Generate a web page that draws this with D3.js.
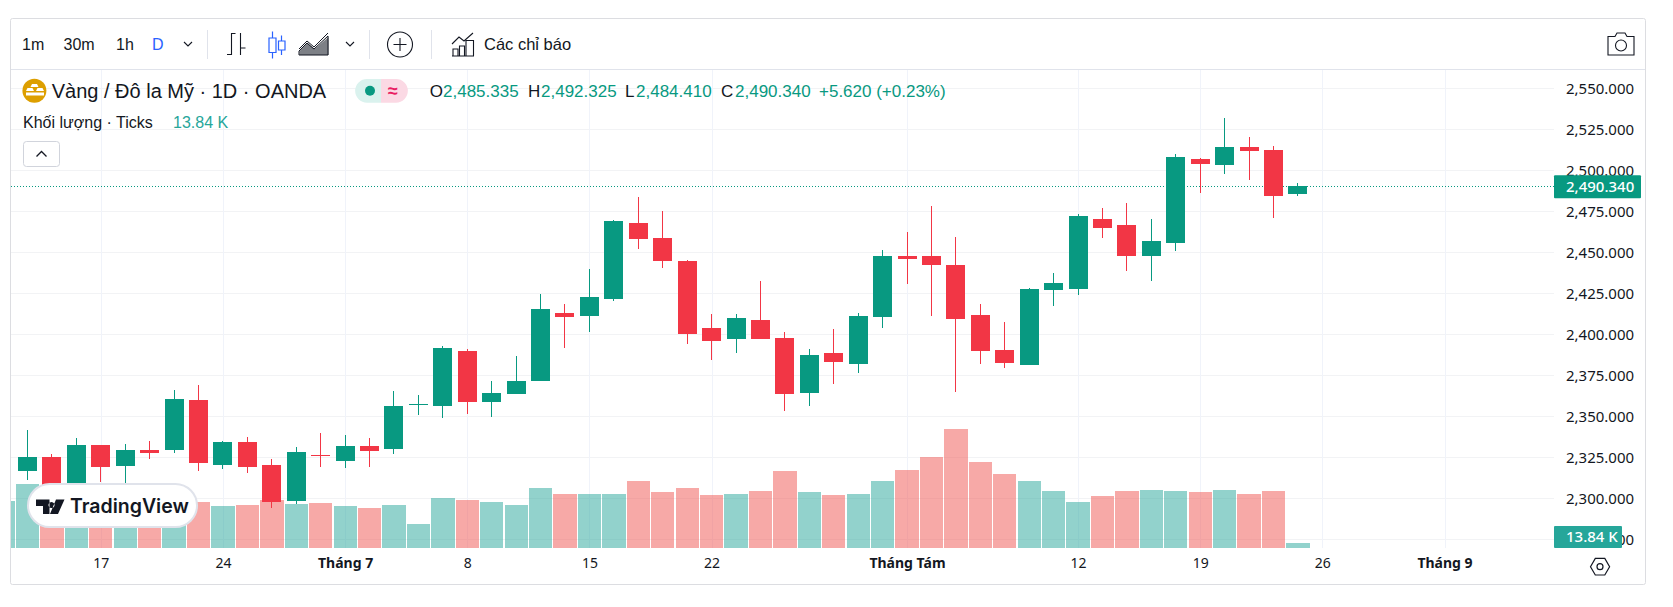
<!DOCTYPE html>
<html><head><meta charset="utf-8">
<script src="https://cdn.jsdelivr.net/npm/d3@7"></script>
<style>
html,body{margin:0;padding:0;background:#fff;overflow:hidden}
svg{display:block}
.ui{font-family:"Liberation Sans",Arial,sans-serif}
.ax{font-family:"Noto Sans",sans-serif}
</style></head><body><svg id="c" width="1673" height="607"></svg>
<script>
// ---------- data ----------
const dates=["06-11","06-12","06-13","06-14","06-17","06-18","06-19","06-20","06-21","06-24","06-25","06-26","06-27","06-28",
"07-01","07-02","07-03","07-04","07-05","07-08","07-09","07-10","07-11","07-12","07-15","07-16","07-17","07-18","07-19",
"07-22","07-23","07-24","07-25","07-26","07-29","07-30","07-31","08-01","08-02","08-05","08-06","08-07","08-08","08-09",
"08-12","08-13","08-14","08-15","08-16","08-19","08-20","08-21","08-22","08-23","08-26","08-27","08-28","08-29","08-30","09-02"];
// candles start at dates[1]; dates[0] only shows its volume bar, clipped by the pane edge
const opens=[2316.7,2325.2,2304,2332.5,2319.6,2329.4,2329.4,2360,2320.3,2334.3,2320.3,2298.3,2326.5,2322.8,2331.9,2330,2356.9,2356.3,2389.8,2358.7,2363.6,2371.5,
2413,2411.2,2421.5,2467.9,2458.7,2444.7,2403.8,2397.1,2408.7,2397.7,2364.2,2388.6,2381.9,2410.6,2447.8,2447.8,2442.3,2411.8,2390.4,2381.3,2427,2427.6,2470.3,2466.7,2447.8,2455.7,2506.9,2503.3,2514.2,2512.4,2485.335];
const highs=[2341.7,2327,2336.8,2332.5,2333,2335,2366,2369,2335,2337.4,2324,2331.3,2339.8,2338.6,2336.8,2365.5,2363,2393,2391,2371.5,2386.8,2424.6,
2418.5,2439.8,2469.7,2483.7,2475.2,2445.3,2412.4,2412.4,2432.5,2401.4,2391,2403.2,2413,2451.4,2462.4,2478.3,2459.3,2418.5,2407.5,2428.2,2437.4,2473.4,2477,2480,2470.3,2510,2507.5,2531.9,2520.3,2514.8,2492.325];
const lows=[2311.2,2301,2302,2310,2309.6,2323.9,2327.6,2316.7,2317.9,2315.5,2294,2296.5,2319,2318.5,2319,2327,2350.8,2349,2351.4,2349.6,2363.6,2371.5,
2391.6,2401.4,2420.3,2452,2440.4,2394,2384.3,2388.6,2397.1,2353.2,2356.3,2369.7,2376.4,2403.8,2430.7,2411.2,2364.8,2381.9,2379.3,2381.3,2417.3,2424,2458.7,2438.6,2432.5,2450.8,2486.2,2497.8,2494.1,2470.9,2484.41];
const closes=[2325.2,2304,2332.5,2319,2329.4,2327.6,2360.6,2321.5,2334.3,2319,2297.7,2328.2,2326.1,2331.9,2328.9,2356.3,2357.5,2391.7,2358.7,2364.2,2371.5,2415.4,
2410.6,2422.8,2469.1,2458.1,2444.7,2400.2,2395.9,2409.9,2397.1,2363.6,2387.4,2383.1,2411.2,2447.8,2445.9,2442.3,2409.3,2389.8,2382.5,2427.6,2431.3,2472.2,2464.8,2447.8,2456.9,2508.1,2503.9,2514.2,2511.8,2484.4,2490.34];
// volumes (thousand ticks) start at dates[0]
const volumes=[130.1,177.2,114.4,123.6,123.6,105.2,109.8,119,127.3,116.3,119,132.9,121.8,124.6,116.3,110.7,119,66.4,138.4,132.9,127.3,119,166.1,
149.5,149.5,149.5,185.5,155,166.1,146.7,149.5,157.8,213.1,155,146.7,149.5,185.5,215.9,251.9,329.4,238,204.8,185.5,157.8,127.3,143.9,157.8,160.5,157.8,155,160.5,149.5,157.8,13.84];
const priceTicks=[2550,2525,2500,2475,2450,2425,2400,2375,2350,2325,2300,2275];
const timeTickDates=["06-17","06-24","07-01","07-08","07-15","07-22","08-01","08-12","08-19","08-26","09-02"];
const timeTickLabels=["17","24","Tháng 7","8","15","22","Tháng Tám","12","19","26","Tháng 9"];
const monthLabels=["Tháng 7","Tháng Tám","Tháng 9"];
const lastPrice=2490.34, lastVolume=13.84;
const intervals=["1m","30m","1h","D"];
const ohlcLetters=["O","H","L","C"];
const ohlcValues=["2,485.335","2,492.325","2,484.410","2,490.340"];

// ---------- layout ----------
const UP="#089981",DOWN="#f23645",VUP="#26a69a",VDOWN="#ef5350",INK="#131722",GRID="#f0f3fa";
const L=11,R=1554,T=70,B=548;
const svg=d3.select("#c");
const x=d3.scalePoint().domain(dates).range([3.07,1444.5]);
const y=d3.scaleLinear().domain([2550,2275]).range([88.3,539.3]);
const vPx=d3.scaleLinear().domain([0,lastVolume]).range([0,5]);
const vy=v=>B-vPx(v);

svg.append("defs").append("clipPath").attr("id","pane").append("rect").attr("x",L).attr("y",T).attr("width",R-L).attr("height",B-T);

// grid
const grid=svg.append("g").attr("shape-rendering","crispEdges");
grid.selectAll(".h").data(priceTicks).join("line").attr("x1",L).attr("x2",R).attr("y1",d=>y(d)).attr("y2",d=>y(d)).attr("stroke","#f2f3f5");
grid.selectAll(".v").data(timeTickDates).join("line").attr("x1",d=>Math.round(x(d))+.5).attr("x2",d=>Math.round(x(d))+.5).attr("y1",T).attr("y2",B).attr("stroke",GRID);

const pane=svg.append("g").attr("clip-path","url(#pane)").attr("shape-rendering","crispEdges");
// volume
const isUp=i=>i===0||closes[i-1]>=opens[i-1];
pane.append("g").selectAll("rect").data(volumes).join("rect")
 .attr("x",(d,i)=>Math.round(x(dates[i])-11.6)).attr("width",(d,i)=>Math.round(x(dates[i])+11.7)-Math.round(x(dates[i])-11.6))
 .attr("y",d=>Math.round(vy(d))).attr("height",d=>B-Math.round(vy(d)))
 .attr("fill",(d,i)=>isUp(i)?VUP:VDOWN).attr("fill-opacity",.5);
// last price line
pane.append("line").attr("x1",L).attr("x2",R).attr("y1",Math.round(y(lastPrice))+.5).attr("y2",Math.round(y(lastPrice))+.5)
 .attr("stroke",UP).attr("stroke-dasharray","1 2");
// candles
const cg=pane.append("g").selectAll("g").data(closes).join("g");
const cx=i=>x(dates[i+1]);
cg.append("rect").attr("x",(d,i)=>Math.round(cx(i)-.5)).attr("width",1)
 .attr("y",(d,i)=>y(highs[i])).attr("height",(d,i)=>y(lows[i])-y(highs[i]))
 .attr("fill",(d,i)=>d>=opens[i]?UP:DOWN);
cg.append("rect").attr("x",(d,i)=>Math.round(cx(i)-9.5)).attr("width",19)
 .attr("y",(d,i)=>y(Math.max(d,opens[i]))).attr("height",(d,i)=>Math.max(1,Math.abs(y(d)-y(opens[i]))))
 .attr("fill",(d,i)=>d>=opens[i]?UP:DOWN);

// price axis
const pa=svg.append("g").attr("class","ax").attr("transform","translate(1554,0)")
 .call(d3.axisRight(y).tickValues(priceTicks).tickFormat(d3.format(",.3f")).tickSize(0).tickPadding(12));
pa.select(".domain").remove();
pa.selectAll("text").attr("font-size",15).attr("font-family","Noto Sans").attr("fill",INK);

// time axis
const ta=svg.append("g").attr("class","ax").attr("transform","translate(0,"+B+")")
 .call(d3.axisBottom(x).tickValues(timeTickDates).tickFormat((d,i)=>timeTickLabels[i]).tickSize(0).tickPadding(10));
ta.select(".domain").remove();
ta.selectAll("text").attr("font-size",14).attr("font-family","Noto Sans").attr("fill",INK)
 .attr("font-weight",function(){return monthLabels.includes(this.textContent)?700:400});

// value tags
const tag=svg.append("g");
tag.append("rect").attr("x",1554).attr("width",87).attr("y",y(lastPrice)-11).attr("height",23).attr("rx",1).attr("fill",UP);
tag.append("text").attr("class","ax").attr("x",1566).attr("y",y(lastPrice)+5.5).attr("font-size",15).attr("font-weight",500).attr("fill","#fff").text(d3.format(",.3f")(lastPrice));
tag.append("rect").attr("x",1554).attr("width",68).attr("y",526).attr("height",22).attr("rx",1).attr("fill",VUP);
tag.append("text").attr("class","ax").attr("x",1566).attr("y",542).attr("font-size",15).attr("font-weight",500).attr("fill","#fff").text(lastVolume+" K");

// watermark
const wm=svg.append("g");
wm.append("rect").attr("x",28).attr("y",484).attr("width",169).attr("height",43).attr("rx",21.5).attr("fill","#fff").attr("stroke","#e0e3eb").attr("stroke-width",2);
wm.append("path").attr("fill",INK).attr("d","M36 499.5h13.5v14.5h-6.5v-8h-7zM51.5 502a3 3 0 1 0 .01 0zM56 499.5h8.5l-6.5 14.5h-8z");
wm.append("text").attr("x",70).attr("y",513).attr("font-family","Inter,sans-serif").attr("font-weight",600).attr("font-size",19.5).attr("fill",INK).text("TradingView");

// frame
svg.append("rect").attr("x",10.5).attr("y",18.5).attr("width",1635).attr("height",566).attr("rx",2).attr("fill","none").attr("stroke","#dcdde1");
svg.append("line").attr("x1",11).attr("x2",1645).attr("y1",69.5).attr("y2",69.5).attr("stroke","#e0e3eb");

// toolbar
const tb=svg.append("g").attr("class","ui");
const ivX=[22,63.5,116,152];
tb.selectAll(".iv").data(intervals).join("text").attr("x",(d,i)=>ivX[i]).attr("y",49.5).attr("font-size",16).attr("fill",d=>d==="D"?"#2962ff":INK).text(d=>d);
[188,350].forEach(c=>tb.append("path").attr("d",`M${c-4} 42l4 4l4 -4`).attr("fill","none").attr("stroke",INK).attr("stroke-width",1.1));
[207.5,369.5,431.5].forEach(c=>tb.append("line").attr("x1",c).attr("x2",c).attr("y1",30).attr("y2",59).attr("stroke","#e0e3eb"));
const ic=tb.append("g").attr("fill","none").attr("stroke",INK).attr("stroke-width",1.1);
ic.append("path").attr("d","M227 54.5h4.5M231.5 55V33.5h4M240.5 33v22M240.5 48h5");
const cb=tb.append("g").attr("fill","none").attr("stroke","#2962ff").attr("stroke-width",1.2);
cb.append("path").attr("d","M272.5 31.500v6.500M272.500 52.500v6M269 38h7v14.500h-7zM281.500 35.500v5.500M281.500 50v5M278.500 41h6.500v9h-6.500z");
ic.append("path").attr("d","M299 49l8-8 7 6 14-14M299 55v-4l8-8 7 6 14-13v19z").attr("stroke-width",1);
tb.append("path").attr("d","M299.500 55v-4l8-8 7 6 14-12v18z").attr("fill",INK).attr("opacity",.55);
ic.append("circle").attr("cx",400).attr("cy",44.5).attr("r",12.5);
ic.append("path").attr("d","M400 38v13M393.500 44.500h13");
ic.append("path").attr("d","M452 44l7-7 5 4 9-8M453 55.500v-6.500h5v6.500M459.500 55.500v-9.500h5v9.500M466 55.500v-15h7.500v15M452 56h22");
tb.append("text").attr("x",484).attr("y",49.500).attr("font-size",16.500).attr("fill",INK).text("Các chỉ báo");
ic.append("path").attr("d","M1608 36.500h7l2-3.500h8l2 3.500h7v18.500h-26z");
ic.append("ellipse").attr("cx",1621).attr("cy",45.500).attr("rx",5.500).attr("ry",5.500);

// legend
const lg=svg.append("g").attr("class","ui");
lg.append("circle").attr("cx",34.400).attr("cy",90.700).attr("r",12).attr("fill","#dd9f00");
lg.append("path").attr("d","M32 84h5l1.500 3h-8zM26 91l1.500-3h5l1.500 3zM36 91l1.500-3h5l1.500 3zM26 92.500h18v3h-18z").attr("fill","#fff");
lg.append("text").attr("x",51.700).attr("y",97.500).attr("font-size",20).attr("fill",INK).text("Vàng / Đô la Mỹ · 1D · OANDA");
lg.append("path").attr("d","M381 79h-14a11.800 11.800 0 0 0 0 23.700h14z").attr("fill","#daf2ee");
lg.append("path").attr("d","M381 79h15a11.800 11.800 0 0 1 0 23.700h-15z").attr("fill","#fbd9e4");
lg.append("circle").attr("cx",370).attr("cy",90.700).attr("r",5).attr("fill",UP);
lg.append("text").attr("x",393).attr("y",96.500).attr("text-anchor","middle").attr("font-size",18).attr("font-weight",700).attr("fill","#e91e63").text("≈");
const letX=[429.800,528,625,721],valX=[443,541,636,735];
lg.selectAll(".ol").data(ohlcLetters).join("text").attr("x",(d,i)=>letX[i]).attr("y",97).attr("font-size",17).attr("fill",INK).text(d=>d);
lg.selectAll(".ov").data(ohlcValues).join("text").attr("x",(d,i)=>valX[i]).attr("y",97).attr("font-size",17).attr("fill",UP).text(d=>d);
lg.append("text").attr("x",819).attr("y",97).attr("font-size",17).attr("fill",UP).text("+5.620 (+0.23%)");
lg.append("text").attr("x",23).attr("y",128).attr("font-size",16).attr("fill",INK).text("Khối lượng · Ticks");
lg.append("text").attr("x",173).attr("y",128).attr("font-size",16).attr("fill",VUP).text("13.84 K");
lg.append("rect").attr("x",23.500).attr("y",141.500).attr("width",36).attr("height",25).attr("rx",3).attr("fill","#fff").attr("stroke","#d1d4dc");
lg.append("path").attr("d","M36.500 156.500l5-5l5 5").attr("fill","none").attr("stroke",INK).attr("stroke-width",1.300);

// settings
svg.append("path").attr("d","M1590.500 566.700l4.800-8.300h9.500l4.800 8.300l-4.800 8.300h-9.500z").attr("fill","none").attr("stroke",INK).attr("stroke-width",1.200);
svg.append("circle").attr("cx",1600).attr("cy",566.700).attr("r",3).attr("fill","none").attr("stroke",INK).attr("stroke-width",1.200);
</script></body></html>
